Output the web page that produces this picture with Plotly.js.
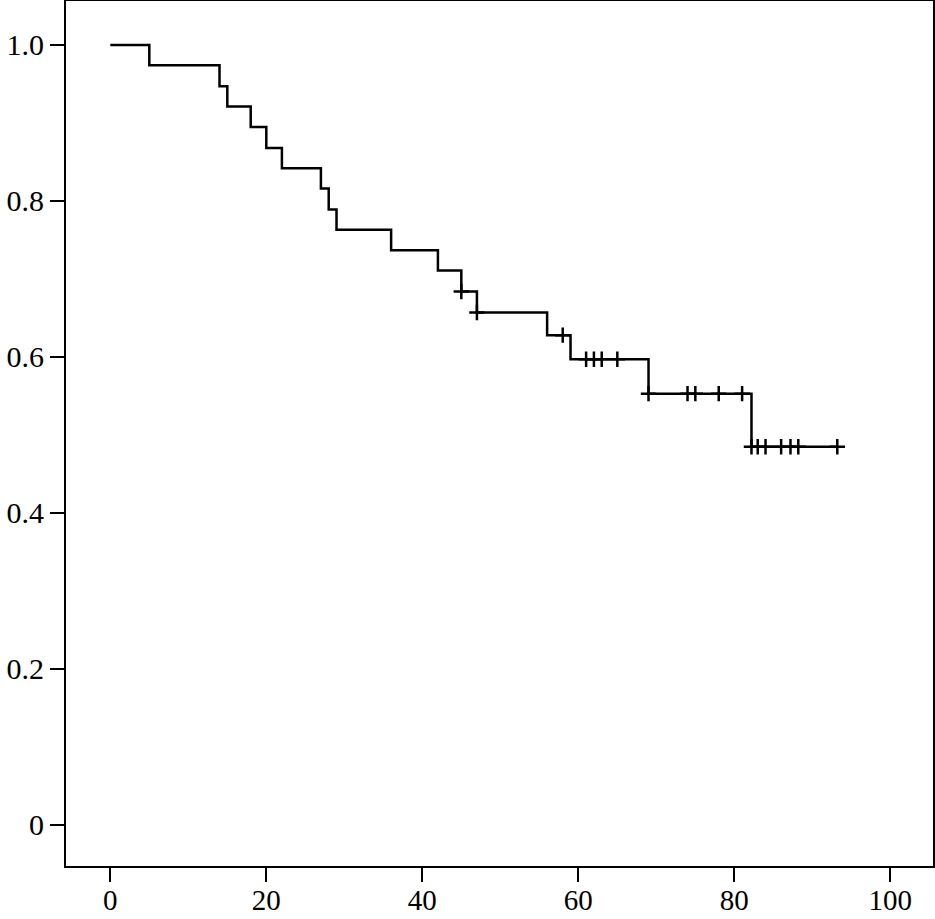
<!DOCTYPE html>
<html>
<head>
<meta charset="utf-8">
<script src="https://cdn.plot.ly/plotly-3.0.1.min.js"></script>
<style>html,body{margin:0;padding:0;background:#fff;}#chart{width:935px;height:919px;}</style>
</head>
<body>
<div id="chart"></div>
<script>
// Kaplan-Meier step curve (time, survival)
const stepTimes = [0, 5, 14, 15, 18, 20, 22, 27, 28, 29, 36, 42, 45, 47, 56, 59, 69, 82.2, 93.2];
const stepSurvival = [1.0, 0.974, 0.947, 0.921, 0.895, 0.868, 0.842, 0.816, 0.789, 0.763, 0.737, 0.711, 0.684, 0.657, 0.628, 0.597, 0.553, 0.485, 0.485];
// Censored observations
const censorTimes = [45, 47, 58, 61, 62, 63, 65, 69, 74, 75, 78, 81, 82.2, 83, 84, 86, 87.2, 88.2, 93.2];
const censorSurvival = [0.684, 0.657, 0.628, 0.597, 0.597, 0.597, 0.597, 0.553, 0.553, 0.553, 0.553, 0.553, 0.485, 0.485, 0.485, 0.485, 0.485, 0.485, 0.485];
const xTicks = [0, 20, 40, 60, 80, 100];
const yTicks = [0, 0.2, 0.4, 0.6, 0.8, 1.0];
const yTickText = ['0', '0.2', '0.4', '0.6', '0.8', '1.0'];

const traces = [
  {x: stepTimes, y: stepSurvival, type: 'scatter', mode: 'lines',
   line: {shape: 'hv', color: '#000', width: 2.5}, hoverinfo: 'skip'},
  {x: censorTimes, y: censorSurvival, type: 'scatter', mode: 'markers',
   marker: {symbol: 'cross-thin', size: 11, color: '#000', line: {color: '#000', width: 2.5}}}
];
const font = {family: '"Liberation Serif", serif', size: 30, color: '#000'};
const xfont = {family: '"Liberation Serif", serif', size: 29, color: '#000'};
const layout = {
  width: 935, height: 919,
  margin: {l: 66, r: 2, t: 1, b: 53},
  showlegend: false,
  paper_bgcolor: '#fff', plot_bgcolor: '#fff',
  font: font,
  xaxis: {range: [-5.68, 105.47], tickvals: xTicks, ticktext: xTicks.map(String),
          ticks: 'outside', ticklen: 14, tickwidth: 2, tickcolor: '#000',
          ticklabelstandoff: -7,
          showline: true, linewidth: 2, linecolor: '#000', mirror: true,
          showgrid: false, zeroline: false, tickfont: xfont},
  yaxis: {range: [-0.0526, 1.0564], tickvals: yTicks, ticktext: yTickText,
          ticks: 'outside', ticklen: 14, tickwidth: 2, tickcolor: '#000',
          showline: true, linewidth: 2, linecolor: '#000', mirror: true,
          showgrid: false, zeroline: false, tickfont: font}
};
Plotly.newPlot('chart', traces, layout, {displayModeBar: false, staticPlot: true});
</script>
</body>
</html>
